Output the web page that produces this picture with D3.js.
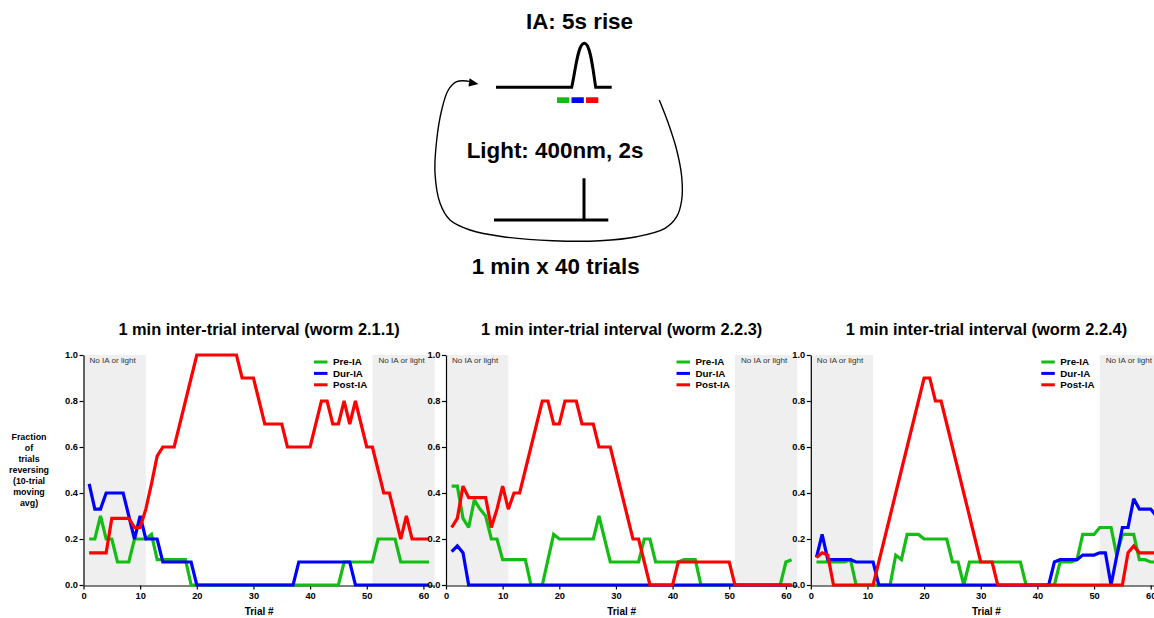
<!DOCTYPE html>
<html><head><meta charset="utf-8">
<script src="https://cdn.jsdelivr.net/npm/d3@7"></script>
<style>
html,body{margin:0;padding:0;background:#fff;overflow:hidden}
svg{display:block;font-family:"Liberation Sans",Arial,Helvetica,sans-serif}
</style></head><body>
<svg id="fig" width="1154" height="618"></svg>
<script>
// ---- data ----
const trials = d3.range(1, 62);
const xTicks = [0, 10, 20, 30, 40, 50, 60];
const yTicks = [0, 0.2, 0.4, 0.6, 0.8, 1.0];
const seriesNames = ["Pre-IA", "Dur-IA", "Post-IA"];
const seriesColors = ["#14bd14", "#0000ff", "#ff0000"];
const worms = ["2.1.1", "2.2.3", "2.2.4"];
const noStimSpans = [[0, 11], [51, 62]];

// worm 2.1.1
const preIA_211 = [0.2,0.2,0.3,0.2,0.2,0.1,0.1,0.1,0.2,0.2, 0.2,0.22,0.11,0.11,0.11,0.11,0.11,0.11,0,0, 0,0,0,0,0,0,0,0,0,0, 0,0,0,0,0,0,0,0,0,0, 0,0,0,0,0,0.1,0.1,0.1,0.1,0.1, 0.1,0.2,0.2,0.2,0.2,0.1,0.1,0.1,0.1,0.1, 0.1];
const durIA_211 = [0.44,0.33,0.33,0.4,0.4,0.4,0.4,0.3,0.2,0.3, 0.2,0.2,0.2,0.1,0.1,0.1,0.1,0.1,0.1,0, 0,0,0,0,0,0,0,0,0,0, 0,0,0,0,0,0,0,0.1,0.1,0.1, 0.1,0.1,0.1,0.1,0.1,0.1,0.1,0,0,0, 0,0,0,0,0,0,0,0,0,0, 0];
const postIA_211 = [0.14,0.14,0.14,0.14,0.29,0.29,0.29,0.29,0.25,0.25, 0.33,0.44,0.56,0.6,0.6,0.6,0.7,0.8,0.9,1.0, 1,1,1,1,1,1,1,0.9,0.9,0.9, 0.8,0.7,0.7,0.7,0.7,0.6,0.6,0.6,0.6,0.6, 0.7,0.8,0.8,0.7,0.7,0.8,0.7,0.8,0.7,0.6, 0.6,0.5,0.4,0.4,0.3,0.2,0.3,0.2,0.2,0.2, 0.2];

// worm 2.2.3
const preIA_223 = [0.43,0.43,0.29,0.25,0.37,0.33,0.3,0.2,0.2,0.11, 0.11,0.11,0.11,0.11,0,0,0,0.11,0.22,0.2, 0.2,0.2,0.2,0.2,0.2,0.2,0.3,0.2,0.1,0.1, 0.1,0.1,0.1,0.1,0.2,0.2,0.1,0.1,0.1,0.1, 0.1,0.11,0.11,0.11,0,0,0,0,0,0, 0,0,0,0,0,0,0,0,0,0.1, 0.11];
const durIA_223 = [0.145,0.17,0.14,0,0,0,0,0,0,0, 0,0,0,0,0,0,0,0,0,0, 0,0,0,0,0,0,0,0,0,0, 0,0,0,0,0,0,0,0,0,0, 0,0,0,0,0,0,0,0,0,0, 0,0,0,0,0,0,0,0,0,0, 0];
const postIA_223 = [0.25,0.29,0.43,0.38,0.38,0.38,0.38,0.25,0.33,0.43, 0.33,0.4,0.4,0.5,0.6,0.7,0.8,0.8,0.7,0.7, 0.8,0.8,0.8,0.7,0.7,0.7,0.6,0.6,0.6,0.5, 0.4,0.3,0.2,0.2,0.1,0,0,0,0,0, 0.1,0.1,0.1,0.1,0.1,0.1,0.1,0.1,0.1,0.1, 0,0,0,0,0,0,0,0,0,0, 0];

// worm 2.2.4
const preIA_224 = [0.1,0.1,0.1,0.1,0.1,0.1,0.11,0,0,0, 0,0,0,0,0.13,0.11,0.22,0.22,0.22,0.2, 0.2,0.2,0.2,0.2,0.1,0.1,0,0.1,0.1,0.1, 0.1,0.1,0.1,0.1,0.1,0.1,0.1,0,0,0, 0,0,0,0.1,0.1,0.1,0.11,0.22,0.22,0.22, 0.25,0.25,0.25,0.13,0.22,0.22,0.22,0.11,0.11,0.1, 0.1];
const durIA_224 = [0.12,0.22,0.11,0.11,0.11,0.11,0.11,0.1,0.1,0.1, 0.1,0,0,0,0,0,0,0,0,0, 0,0,0,0,0,0,0,0,0,0, 0,0,0,0,0,0,0,0,0,0, 0,0,0.1,0.11,0.11,0.11,0.11,0.13,0.13,0.13, 0.14,0.14,0,0.125,0.25,0.25,0.375,0.33,0.33,0.33, 0.3];
const postIA_224 = [0.12,0.14,0.13,0,0,0,0,0,0,0, 0,0.1,0.2,0.3,0.4,0.5,0.6,0.7,0.8,0.9, 0.9,0.8,0.8,0.7,0.6,0.5,0.4,0.3,0.2,0.1, 0.1,0.1,0,0,0,0,0,0,0,0, 0,0,0,0,0,0,0,0,0,0, 0,0,0,0,0,0.14,0.17,0.14,0.14,0.14, 0.14];

const panelSeries = [
  [preIA_211, durIA_211, postIA_211],
  [preIA_223, durIA_223, postIA_223],
  [preIA_224, durIA_224, postIA_224]
];

// ---- layout ----
const svg = d3.select("#fig");
const panelLeft = [83.5, 446, 810.8];
const trialPx = 5.665;
const xMax = 62;
const yTop = 355, yBot = 585;

// ---- stimulus schematic ----
const sch = svg.append("g");
sch.append("text").attr("x", 579.5).attr("y", 28.5).attr("text-anchor", "middle")
  .attr("font-size", 22.4).attr("font-weight", "bold").text("IA: 5s rise");
sch.append("path")
  .attr("d", "M496,87.3 L571.7,87.3 C575.5,70 578,43.3 584.3,43.3 C590.5,43.3 593,70 595.7,87.3 L611.7,87.3")
  .attr("fill", "none").attr("stroke", "#000").attr("stroke-width", 3);
const epochBars = [[557, "#14bd14"], [571.5, "#0000ff"], [586, "#ff0000"]];
sch.selectAll("rect.epoch").data(epochBars).join("rect").attr("class", "epoch")
  .attr("x", d => d[0]).attr("y", 97.3).attr("width", 12.3).attr("height", 5.7).attr("fill", d => d[1]);
sch.append("text").attr("x", 555).attr("y", 157.5).attr("text-anchor", "middle")
  .attr("font-size", 22.4).attr("font-weight", "bold").text("Light: 400nm, 2s");
sch.append("path").attr("d", "M494,220 L608.3,220 M584,178.3 L584,220")
  .attr("fill", "none").attr("stroke", "#000").attr("stroke-width", 3);
sch.append("text").attr("x", 555.7).attr("y", 274).attr("text-anchor", "middle")
  .attr("font-size", 22.4).attr("font-weight", "bold").text("1 min x 40 trials");
const loopPts = [[659.3,100],[668.3,123.3],[676.7,150],[681.7,176.7],[681.7,200],[676.7,216.7],[665,228.3],
  [636.7,236.7],[600,240.7],[553,240.7],[503,236.7],[470,230],[450,220],[440,203],[435,173],[436.7,140],
  [441.7,110],[448.3,90],[456.7,81.7],[466.7,81],[472,82.2]];
sch.append("path").attr("d", d3.line().curve(d3.curveCatmullRom)(loopPts))
  .attr("fill", "none").attr("stroke", "#000").attr("stroke-width", 1.4);
sch.append("path").attr("d", "M478.5,84 L469.5,78.2 L468.5,86.4 Z").attr("fill", "#000");

// ---- y axis title ----
const yTitle = ["Fraction", "of", "trials", "reversing", "(10-trial", "moving", "avg)"];
svg.append("text").attr("x", 29).attr("y", 440).attr("text-anchor", "middle")
  .attr("font-size", 8.9).attr("font-weight", "bold")
  .selectAll("tspan").data(yTitle).join("tspan")
  .attr("x", 29).attr("dy", (d, i) => i === 0 ? 0 : 11.05).text(d => d);

// ---- panels ----
panelSeries.forEach((series, p) => {
  const x = d3.scaleLinear().domain([0, xMax]).range([panelLeft[p], panelLeft[p] + xMax * trialPx]);
  const y = d3.scaleLinear().domain([0, 1]).range([yBot, yTop]);
  const g = svg.append("g");

  g.selectAll("rect.shade").data(noStimSpans).join("rect").attr("class", "shade")
    .attr("x", d => x(d[0])).attr("width", d => x(d[1]) - x(d[0]))
    .attr("y", yTop).attr("height", yBot - yTop).attr("fill", "#efefef");

  g.selectAll("text.shade").data(noStimSpans).join("text").attr("class", "shade")
    .attr("x", d => x(d[0]) + 6).attr("y", 362.5)
    .attr("font-size", 8.1).attr("fill", "#333").text("No IA or light");

  g.append("text").attr("x", (x(0) + x(xMax)) / 2).attr("y", 335)
    .attr("text-anchor", "middle").attr("font-size", 16.4).attr("font-weight", "bold")
    .text(`1 min inter-trial interval (worm ${worms[p]})`);

  const yAxis = g.append("g").attr("transform", `translate(${x(0)},0)`)
    .call(d3.axisLeft(y).tickValues(yTicks).tickFormat(d3.format(".1f")).tickSize(4).tickSizeOuter(0));
  const xAxis = g.append("g").attr("transform", `translate(0,${yBot + 0.5})`)
    .call(d3.axisBottom(x).tickValues(xTicks).tickSize(4).tickSizeOuter(0));
  [yAxis, xAxis].forEach(a => {
    a.select(".domain").attr("stroke", "#000").attr("stroke-width", 1.2);
    a.selectAll(".tick line").attr("stroke", "#000").attr("stroke-width", 1.2);
    a.selectAll(".tick text").attr("font-family", "inherit").attr("font-size", 9.3)
      .attr("font-weight", "bold").attr("fill", "#000");
  });
  yAxis.selectAll(".tick text").attr("x", -5.5);
  xAxis.selectAll(".tick text").attr("y", 6.5);

  g.append("text").attr("x", (x(0) + x(xMax)) / 2).attr("y", 615)
    .attr("text-anchor", "middle").attr("font-size", 10).attr("font-weight", "bold").text("Trial #");

  const line = d3.line().x((d, i) => x(trials[i])).y(d => y(d));
  series.forEach((vals, s) => {
    g.append("path").attr("d", line(vals)).attr("fill", "none")
      .attr("stroke", seriesColors[s]).attr("stroke-width", 3.2)
      .attr("stroke-linejoin", "miter").attr("stroke-miterlimit", 2.5);
  });

  const leg = g.append("g");
  seriesNames.forEach((name, s) => {
    const ly = 362 + s * 11.4;
    leg.append("line").attr("x1", x(0) + 230.5).attr("x2", x(0) + 244)
      .attr("y1", ly).attr("y2", ly).attr("stroke", seriesColors[s]).attr("stroke-width", 3);
    leg.append("text").attr("x", x(0) + 249.5).attr("y", ly + 3.4)
      .attr("font-size", 9.8).attr("font-weight", "bold").text(name);
  });
});
</script>
</body></html>
